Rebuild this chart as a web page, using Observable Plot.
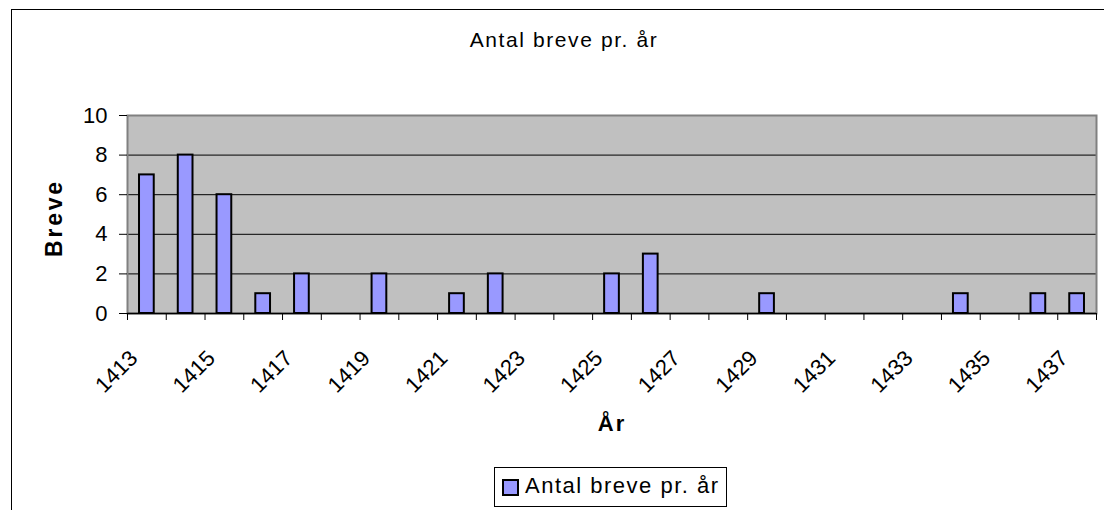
<!DOCTYPE html>
<html><head><meta charset="utf-8">
<script src="https://cdn.jsdelivr.net/npm/d3@7"></script>
<script src="https://cdn.jsdelivr.net/npm/@observablehq/plot@0.6"></script>
<style>
body{margin:0;background:#fff;}
#wrap{position:relative;width:1104px;height:510px;overflow:hidden;font-family:"Liberation Sans",Arial,sans-serif;color:#000;background:#fff;}
#border{position:absolute;left:11px;top:9px;width:1200px;height:600px;border-top:1px solid #000;border-left:1px solid #000;box-sizing:border-box;}
#chart{position:absolute;left:0;top:0;}
.title{position:absolute;left:0;width:1128px;top:29px;text-align:center;font-size:21px;line-height:21px;letter-spacing:1.6px;white-space:nowrap;}
.ylab{position:absolute;left:54px;top:218px;transform:translate(-50%,-50%) rotate(-90deg);font-size:23px;font-weight:bold;line-height:23px;letter-spacing:2.8px;white-space:nowrap;}
.xlab{position:absolute;left:0;width:1224px;top:413px;text-align:center;font-size:22px;font-weight:bold;line-height:22px;letter-spacing:2px;}
.legend{position:absolute;left:494px;top:467px;width:233px;height:40px;box-sizing:border-box;border:1px solid #000;background:#fff;}
.legend .sw{position:absolute;left:7px;top:11px;width:17px;height:17px;box-sizing:border-box;border:2px solid #000;background:#9999FF;}
.legend .lt{position:absolute;left:30px;top:7px;font-size:22px;line-height:22px;letter-spacing:1.5px;white-space:nowrap;}
</style>
</head><body>
<div id="wrap">
  <div id="border"></div>
  <div id="chart"></div>
  <div class="title" id="title"></div>
  <div class="ylab" id="ylab"></div>
  <div class="xlab" id="xlab"></div>
  <div class="legend"><div class="sw"></div><div class="lt" id="legtext"></div></div>
</div>
<script>
const titleText = "Antal breve pr. år";
const yLabel = "Breve";
const xLabel = "År";
const seriesName = "Antal breve pr. år";

const years = [1413,1414,1415,1416,1417,1418,1419,1420,1421,1422,1423,1424,1425,1426,1427,1428,1429,1430,1431,1432,1433,1434,1435,1436,1437];
const counts = [7,8,6,1,2,0,2,0,1,2,0,0,2,3,0,0,1,0,0,0,0,1,0,1,1];
const xTickLabels = [1413,1415,1417,1419,1421,1423,1425,1427,1429,1431,1433,1435,1437];
const yTicks = [0,2,4,6,8,10];
const gridValues = [2,4,6,8];

document.getElementById("title").textContent = titleText;
document.getElementById("ylab").textContent = yLabel;
document.getElementById("xlab").textContent = xLabel;
document.getElementById("legtext").textContent = seriesName;

const data = years.map((y, i) => ({year: y, count: counts[i]}));
const bars = data.filter(d => d.count > 0);
const half = 0.19;
const bounds = years.map(y => y - 0.5).concat([years[years.length - 1] + 0.5]);

const chart = Plot.plot({
  width: 1104,
  height: 510,
  marginLeft: 127,
  marginRight: 8,
  marginTop: 115,
  marginBottom: 197,
  style: {fontFamily: '"Liberation Sans", Arial, sans-serif', fontSize: "22px", color: "#000", background: "transparent", overflow: "visible"},
  x: {domain: [years[0] - 0.5, years[years.length - 1] + 0.5], axis: null},
  y: {domain: [0, 10], axis: null},
  marks: [
    Plot.frame({fill: "#C0C0C0", stroke: null}),
    Plot.gridY(gridValues, {stroke: "#000", strokeOpacity: 1, strokeWidth: 1}),
    Plot.frame({stroke: "#808080", strokeWidth: 2, fill: null}),
    Plot.rectY(bars, {x1: d => d.year - half, x2: d => d.year + half, y: "count", fill: "#9999FF", stroke: "#000", strokeWidth: 2}),
    Plot.ruleY([0], {stroke: "#000", strokeWidth: 1.5}),
    Plot.axisY({ticks: yTicks, tickSize: 8, tickPadding: 12, label: null, fontSize: 22, stroke: "#000"}),
    Plot.axisX({ticks: bounds, tickSize: 7, tickFormat: () => "", label: null, stroke: "#000"}),
    Plot.text(xTickLabels, {x: d => d, text: d => String(d), frameAnchor: "bottom", rotate: -45, textAnchor: "end", lineAnchor: "middle", dy: 41, dx: -13, fontSize: 22, letterSpacing: 1, fill: "#000"})
  ]
});
document.getElementById("chart").appendChild(chart);
</script>
</body></html>
